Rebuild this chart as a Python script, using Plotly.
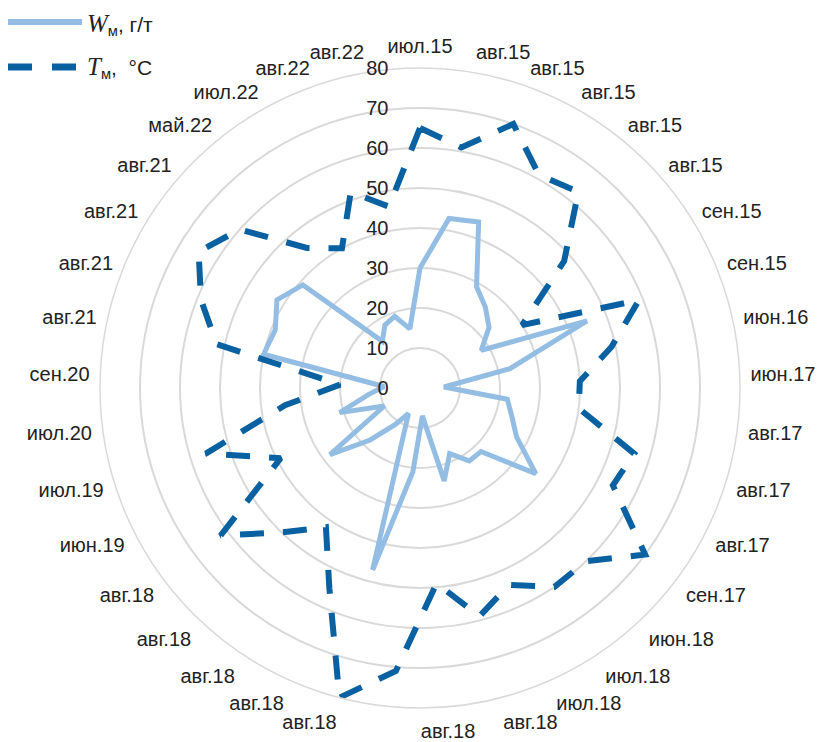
import plotly.graph_objects as go

# ---- data ----
categories = ["июл.15", "авг.15", "авг.15", "авг.15", "авг.15", "авг.15",
              "сен.15", "сен.15", "июн.16", "июн.17", "авг.17", "авг.17",
              "авг.17", "сен.17", "июн.18", "июл.18", "июл.18", "авг.18",
              "авг.18", "", "авг.18", "авг.18", "авг.18", "авг.18", "авг.18",
              "июн.19", "июл.19", "июл.20", "сен.20", "авг.21", "авг.21",
              "авг.21", "авг.21", "май.22", "июл.22", "авг.22", "авг.22"]

w_values = [30, 43, 44, 29, 26, 23, 18, 45, 23, 6, 22, 24, 27, 36, 22, 22,
            18, 24, 7, 21, 47, 7, 11, 18, 28, 10, 21, 13, 9, 40, 39, 42, 39,
            15, 18, 19, 15]

t_values = [65, 61, 70, 61, 63, 48, 30, 59, 49, 40, 40, 56, 54, 70, 60, 60,
            54, 59, 49, 71, 80, 55, 42, 50, 62, 39, 56, 34, 20, 52, 59, 65,
            60, 45, 40, 52, 46]

radial_ticks = [0, 10, 20, 30, 40, 50, 60, 70, 80]

W_NAME = "W<sub>м</sub>, г/т"
T_NAME = "T<sub>м</sub>, °C"

W_COLOR = "#94bde3"
T_COLOR = "#0a61a2"
GRID = "#d9d9d9"
TXT = "#222222"
FONT = "Liberation Sans, Arial, sans-serif"

n = len(categories)
theta = [i * 360.0 / n for i in range(n)]
theta_closed = theta + [360.0]
label_vals = [theta[i] for i in range(n) if categories[i]]
label_text = [categories[i] for i in range(n) if categories[i]]

fig = go.Figure()
fig.add_trace(go.Scatterpolar(
    r=w_values + [w_values[0]], theta=theta_closed, mode="lines",
    name=W_NAME, line=dict(color=W_COLOR, width=5), showlegend=False))
fig.add_trace(go.Scatterpolar(
    r=t_values + [t_values[0]], theta=theta_closed, mode="lines",
    name=T_NAME, line=dict(color=T_COLOR, width=6, dash="24px,19px"),
    showlegend=False))

W, H = 824, 742
OFF = 8  # page body margin
cx, cy, R = 420 - OFF, 388 - OFF, 320

fig.update_layout(
    width=W, height=H,
    margin=dict(l=0, r=0, t=0, b=0),
    paper_bgcolor="white",
    font=dict(family=FONT, size=20, color=TXT),
    polar=dict(
        domain=dict(x=[(cx - R) / W, (cx + R) / W],
                    y=[1 - (cy + R) / H, 1 - (cy - R) / H]),
        bgcolor="white",
        angularaxis=dict(
            rotation=90, direction="clockwise",
            tickmode="array", tickvals=label_vals, ticktext=label_text,
            showgrid=False, showline=True, linecolor=GRID, linewidth=1.5,
            ticks="outside", ticklen=6, tickcolor="rgba(0,0,0,0)",
            tickfont=dict(family=FONT, size=20, color=TXT)),
        radialaxis=dict(
            range=[0, 80], tickmode="array", tickvals=radial_ticks,
            angle=90, side="counterclockwise", tickangle=90,
            showline=False, showgrid=True, gridcolor=GRID, gridwidth=1.5,
            ticks="outside", ticklen=24, tickcolor="rgba(0,0,0,0)",
            tickfont=dict(family=FONT, size=20, color=TXT)),
    ),
)

# legend drawn manually (long line samples as in the reference)
def px_x(x):
    return (x - OFF) / W

def px_y(y):
    return 1 - (y - OFF) / H

fig.add_shape(type="line", xref="paper", yref="paper",
              x0=px_x(8), x1=px_x(82), y0=px_y(22), y1=px_y(22),
              line=dict(color=W_COLOR, width=6))
fig.add_shape(type="line", xref="paper", yref="paper",
              x0=px_x(8), x1=px_x(80), y0=px_y(67), y1=px_y(67),
              line=dict(color=T_COLOR, width=7, dash="24px,20px"))

fig.add_annotation(xref="paper", yref="paper", x=px_x(86), y=px_y(24),
                   xanchor="left", yanchor="middle", showarrow=False,
                   borderpad=0,
                   text='<span style="font-family:Liberation Serif;font-size:25px"><i>W</i></span>'
                        '<sub>м</sub>, г/т',
                   font=dict(family=FONT, size=21, color=TXT))
fig.add_annotation(xref="paper", yref="paper", x=px_x(86), y=px_y(67),
                   xanchor="left", yanchor="middle", showarrow=False,
                   borderpad=0,
                   text='<span style="font-family:Liberation Serif;font-size:25px"><i>T</i></span>'
                        '<sub>м</sub>,  °C',
                   font=dict(family=FONT, size=21, color=TXT))

fig.write_html("out.html")
